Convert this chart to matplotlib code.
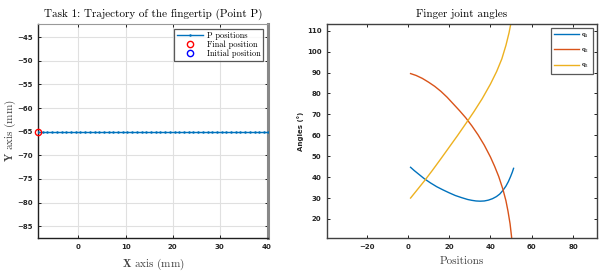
import matplotlib
matplotlib.use("Agg")
import matplotlib.pyplot as plt

plt.rcParams['mathtext.fontset'] = 'cm'

# ---- Data ----
# Left: trajectory of fingertip (horizontal line at y=-65)
p_x = [-8.6, -7.6, -6.6, -5.6, -4.6, -3.6, -2.6, -1.6, -0.6, 0.4, 1.4, 2.4, 3.4, 4.4, 5.4,
       6.4, 7.4, 8.4, 9.4, 10.4, 11.4, 12.4, 13.4, 14.4, 15.4, 16.4, 17.4, 18.4, 19.4, 20.4,
       21.4, 22.4, 23.4, 24.4, 25.4, 26.4, 27.4, 28.4, 29.4, 30.4, 31.4, 32.4, 33.4, 34.4,
       35.4, 36.4, 37.4, 38.4, 39.4, 40.2]
p_y = [-65.0] * len(p_x)
final_pos = (-8.6, -65.0)
initial_pos = (40.8, -65.0)

# Right: finger joint angles
q1_x = [1.3, 3, 5, 8, 11, 14, 17, 20, 23, 26, 29, 31, 33, 35, 37, 39, 41, 42.9, 44.5,
        46, 47.5, 48.7, 49.8, 50.6, 51.2]
q1_y = [44.7, 43.2, 41.6, 39.2, 37.2, 35.4, 33.9, 32.5, 31.2, 30.2, 29.3, 28.9, 28.6,
        28.5, 28.6, 29.0, 29.7, 30.7, 31.9, 33.6, 35.7, 37.9, 40.4, 42.4, 44.2]

q2_x = [1.3, 4, 7, 10, 13, 16, 19, 22, 25, 28, 31, 34, 37, 40, 42, 44, 46, 47.5, 48.5,
        49.5, 50.2, 51]
q2_y = [89.5, 88.6, 87.2, 85.4, 83.4, 81.0, 78.2, 75.0, 71.8, 68.4, 64.5, 60.2, 55.3,
        49.6, 45.2, 40.3, 34.3, 28.7, 23.7, 17.7, 11.7, 3.0]

q3_x = [1.3, 4, 8, 12, 16, 20, 24, 28, 32, 36, 40, 43, 45.5, 47.5, 49, 50.2]
q3_y = [30.0, 33.3, 38.2, 43.4, 48.8, 54.3, 59.8, 65.5, 71.3, 77.5, 84.5, 90.5, 96.5,
        103.0, 109.0, 115.0]

left_xticks = [0, 10, 20, 30, 40]
left_yticks = [-85, -80, -75, -70, -65, -60, -55, -50, -45]
right_xticks = [-20, 0, 20, 40, 60, 80]
right_yticks = [20, 30, 40, 50, 60, 70, 80, 90, 100, 110]

BLUE = '#0072BD'
ORANGE = '#D95319'
YELLOW = '#EDB120'
SERIF = ['cmr10', 'DejaVu Serif']

fig = plt.figure(figsize=(6.16, 2.71), dpi=100)

# ---- Left axes ----
ax1 = fig.add_axes([0.0617, 0.1218, 0.373, 0.7896])
ax1.plot(p_x, p_y, '-', color=BLUE, lw=1.0, marker='.', ms=1.6, label='P positions', zorder=3)
ax1.plot([final_pos[0]], [final_pos[1]], 'o', mfc='none', mec='red', ms=4.5, mew=1.0,
         label='Final position', clip_on=False, zorder=4)
ax1.plot([initial_pos[0]], [initial_pos[1]], 'o', mfc='none', mec='blue', ms=4.5, mew=1.0,
         label='Initial position', zorder=2)
ax1.set_xlim(-8.6, 40.2)
ax1.set_ylim(-87.5, -42.2)
ax1.set_xticks(left_xticks)
ax1.set_yticks(left_yticks)
ax1.grid(True, color='#e0e0e0', lw=0.8)
ax1.set_axisbelow(True)
ax1.tick_params(direction='in', length=2.5, top=True, right=True, width=0.6, pad=4)
for lab in ax1.get_xticklabels() + ax1.get_yticklabels():
    lab.set_fontsize(5); lab.set_fontweight('bold'); lab.set_color('#262626')
ax1.spines['left'].set_color('#202020'); ax1.spines['left'].set_linewidth(1.0)
ax1.spines['bottom'].set_color('#202020'); ax1.spines['bottom'].set_linewidth(1.0)
ax1.spines['top'].set_color('#999999'); ax1.spines['top'].set_linewidth(0.8)
ax1.spines['right'].set_color('#888888'); ax1.spines['right'].set_linewidth(2.2)
ax1.set_title('Task 1: Trajectory of the fingertip (Point P)', family=SERIF, fontsize=8, pad=5)
ax1.set_xlabel(r'$\mathbf{X}$ axis (mm)', family=SERIF, fontsize=8, color='#404040', labelpad=5)
ax1.set_ylabel(r'$\mathbf{Y}$ axis (mm)', family=SERIF, fontsize=8, color='#404040')
ax1.yaxis.set_label_coords(-0.088, 0.5)
leg1 = ax1.legend(loc='upper right', prop={'family': SERIF, 'size': 6}, frameon=True,
                  fancybox=False, edgecolor='#303030', handlelength=3.2, borderpad=0.3,
                  labelspacing=0.1, handletextpad=0.4, borderaxespad=0.6)
leg1.get_frame().set_linewidth(0.9)

# ---- Right axes ----
ax2 = fig.add_axes([0.5308, 0.1218, 0.4383, 0.7896])
ax2.plot(q1_x, q1_y, '-', color=BLUE, lw=1.0, label=r'$\mathbf{q_1}$')
ax2.plot(q2_x, q2_y, '-', color=ORANGE, lw=1.0, label=r'$\mathbf{q_2}$')
ax2.plot(q3_x, q3_y, '-', color=YELLOW, lw=1.0, label=r'$\mathbf{q_3}$')
ax2.set_xlim(-39.2, 91.6)
ax2.set_ylim(10.9, 113.2)
ax2.set_xticks(right_xticks)
ax2.set_yticks(right_yticks)
ax2.tick_params(direction='in', length=2.5, top=True, right=True, width=0.6, pad=4)
for lab in ax2.get_xticklabels() + ax2.get_yticklabels():
    lab.set_fontsize(5); lab.set_fontweight('bold'); lab.set_color('#262626')
for s in ax2.spines.values():
    s.set_color('#404040'); s.set_linewidth(1.0)
ax2.set_title('Finger joint angles', family=SERIF, fontsize=8, pad=5)
ax2.set_xlabel('Positions', family=SERIF, fontsize=8, color='#404040', labelpad=5)
ax2.set_ylabel('Angles (°)', fontsize=5, fontweight='bold', color='#262626')
ax2.yaxis.set_label_coords(-0.085, 0.5)
leg2 = ax2.legend(loc='upper right', prop={'size': 5}, frameon=True, fancybox=False,
                  edgecolor='#303030', handlelength=3.6, borderpad=0.5, labelspacing=1.0,
                  handletextpad=0.3, borderaxespad=0.6)
leg2.get_frame().set_linewidth(0.9)

fig.savefig('out.png', dpi=100)
